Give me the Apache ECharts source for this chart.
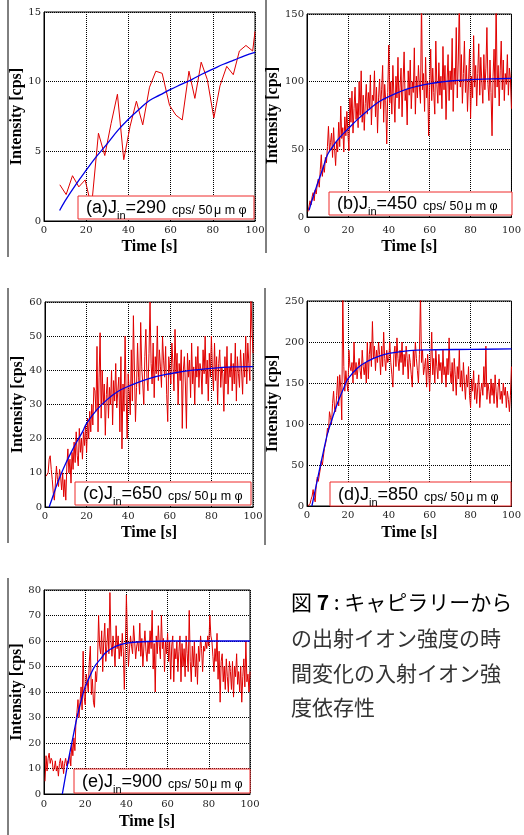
<!DOCTYPE html>
<html><head><meta charset="utf-8">
<script src="https://cdn.jsdelivr.net/npm/echarts@6/dist/echarts.min.js"></script>
<style>html,body{margin:0;padding:0;background:#fff}#c{width:524px;height:835px}</style>
</head><body><div id="c"></div>
<script>
// ---------------- DATA ----------------
const labelsJin = ['290', '450', '650', '850', '900'];
const panelLetters = ['a', 'b', 'c', 'd', 'e'];
const yMaxs = [15, 150, 60, 250, 80];
const yIntervals = [5, 50, 10, 50, 10];
const xMax = 100, xInterval = 20;

// (a) measured points
const aTime = [7.5,10.5,13.5,16.5,19.5,22.5,25.8,28.8,31.8,34.8,37.8,40.8,43.8,46.8,50,53,56,59.5,62.5,65.5,68.7,71.5,74.5,77.4,80.5,83.4,86.6,89.7,92.6,95.7,98.9,100];
const aRed = [2.6,1.9,3.25,2.45,2.95,1.0,6.3,4.7,7.0,9.1,4.4,6.8,8.6,6.9,9.6,10.75,10.6,8.3,7.6,7.25,10.75,8.8,11.4,10.15,7.4,9.7,11.1,10.5,12.2,12.6,12.2,13.6];

// (b)-(e) sampled every 0.5 s starting at 0.5 s
const sampleStep = 0.5;
const bRed = [4,8,12,9,15,18,12,20,17,24, 28,22,35,46,30,38,33,44,40,52, 67,48,55,62,44,66,50,38,56,48, 70,52,82,58,66,48,74,60,78,62,
  49,88,70,93,62,80,96,72,84,66, 100,75,108,70,90,64,84,98,76,92, 80,105,68,90,86,108,74,96,62,88, 102,80,94,112,70,98,86,54,92,127,
  84,100,76,112,90,70,104,88,118,80, 96,110,74,100,122,86,94,68,108,90, 116,80,100,92,125,76,104,88,112,96, 84,160,94,106,78,118,88,100,60,96,
  124,86,110,92,76,130,98,84,114,90, 104,80,126,94,112,72,100,120,86,108, 94,132,78,110,98,140,88,116,160,96, 120,84,106,130,92,112,78,100,124,73,
  104,88,134,96,112,82,106,128,90,118, 100,84,120,94,110,140,98,86,116,92, 60,104,124,88,160,96,112,82,108,130, 94,116,86,106,98,120,90,110,102,80];
const cRed = [9,9,10,14,15,11,8,4,2,7, 12,8,6,11,9,5,10,3,8,2, 12,17,10,14,7,16,11,19,13,22, 15,12,23,16,20,14,22,18,24,16,
  26,20,28,22,30,24,35,34,28,47, 22,38,51,26,40,30,36,21,33,38, 26,35,30,40,24,37,31,42,29,34, 38,22,44,17,36,28,50,33,20,39,
  34,27,46,31,56,40,25,35,48,38, 33,54,41,36,30,44,52,38,34,45, 60,42,36,48,32,44,39,53,37,46, 41,35,50,43,38,47,33,25,44,40,
  36,48,42,34,52,39,45,30,42,37, 46,23,40,44,36,23,45,38,43,32, 48,36,41,30,44,38,47,35,42,40, 33,46,39,50,36,43,31,45,38,50,
  40,34,48,37,44,30,42,46,35,41, 39,28,44,36,47,33,41,38,45,34, 42,36,48,31,44,39,35,46,40,33, 45,38,50,36,48,42,37,62,52,45];
const dRed = [0,0,3,8,12,20,10,5,25,35, 30,28,45,55,50,48,70,75,82,95, 90,115,108,100,125,140,118,115,135,158, 122,160,145,105,260,170,140,165,150,140,
  190,170,165,175,150,200,160,175,155,170, 180,165,155,190,170,160,175,150,200,155, 185,200,170,225,180,195,165,190,175,200, 185,160,195,170,212,180,165,190,175,180,
  200,175,160,145,185,195,170,205,180,165, 190,175,200,160,185,170,195,180,155,185, 175,160,145,190,170,200,180,165,150,185, 260,175,190,160,170,180,145,185,165,140,
  175,212,160,180,150,190,170,155,185,165, 175,150,190,160,170,145,180,160,205,165, 150,175,140,180,160,135,170,155,190,145, 165,140,175,150,130,160,145,170,135,120,
  155,140,165,130,150,125,145,160,120,140, 150,135,170,145,195,130,150,140,125,155, 135,150,125,160,140,120,145,155,130,140, 125,150,135,145,120,140,130,115,135,170];
const eRed = [5,15,9,14,16,12,14,13,9,10, 13,9,11,7,12,14,10,13,8,12, 14,11,13,12,16,11,20,15,22,17, 28,32,37,30,36,42,33,56,38,35,
  47,44,40,52,58,39,45,36,34,48, 44,52,70,58,55,64,48,60,67,52, 58,65,55,79,60,54,62,57,50,66, 57,62,53,59,54,63,56,41,58,78,
  62,50,57,62,58,55,66,60,53,58, 60,56,67,54,61,50,58,64,56,52, 60,55,64,57,72,49,59,40,62,55, 66,58,53,70,57,61,48,60,55,63,
  52,60,45,58,62,44,57,53,60,48, 56,62,44,59,50,57,46,62,55,48, 72,52,44,58,50,60,46,55,43,58, 52,62,57,48,58,56,60,57,62,58,
  70,62,60,54,48,57,52,63,45,56, 36,52,55,44,50,41,53,46,40,52, 48,41,52,38,50,46,55,43,48,40, 50,36,46,53,42,60,44,47,40,48];

// fitted curves
const fitATime = [7.4,10,15,20,25,30,35,40,45,50,55,60,65,70,75,80,85,90,95,100];
const fitAVal  = [0.75,1.45,2.6,3.65,4.65,5.55,6.5,7.3,8.0,8.65,9.05,9.45,9.8,10.15,10.55,10.9,11.25,11.55,11.85,12.1];
const fitBTime = [1,3,5,8,10,13,15,18,20,25,30,35,40,50,60,70,80,90,100];
const fitBVal  = [5,15,24,37,46,53,57,62,65,72.5,79,85,89,95,98.5,100.5,101.5,102,102.5];
const fitCTime = [2,4,6,8,10,13,15,18,20,25,30,35,40,50,60,70,80,90,100];
const fitCVal  = [0,3.5,7,10,12.8,16.5,18.8,22,24.5,28.5,31.5,33.8,35.3,37.6,39,40,40.6,41,41.1];
const fitDTime = [2.4,4,6,8,10,12,15,18,20,25,30,35,40,50,60,80,100];
const fitDVal  = [0,19,43,66,88,104,126,144,155,169,177,182.5,186,189.5,190.5,191,191.5];
const fitETime = [8.9,10,12,14,16,18,20,23,25,28,30,35,40,50,60,80,100];
const fitEVal  = [0,5,14,22,30,36.5,42,47.5,50.5,53.5,55.5,58,59.2,59.8,60,60,60];

const captionLines = ['の出射イオン強度の時', '間変化の入射イオン強', '度依存性'];

// ---------------- LAYOUT ----------------
const grids = [
  {left:44, top:12, width:211, height:209},
  {left:307, top:14, width:206, height:203},
  {left:45, top:302, width:208, height:205},
  {left:307, top:301, width:206, height:205},
  {left:44, top:590, width:206, height:204}
];
const xNameGaps = [18, 22, 18, 19, 20];
const xLabelMargins = [4, 8, 4, 4, 5];
const yNameGaps = [18, 20, 19, 22, 18];
const boxes = [
  {x:78, y:196, w:176, h:23},
  {x:329, y:192, w:183, h:23},
  {x:75, y:482, w:176, h:23},
  {x:330, y:482, w:181, h:24},
  {x:74, y:769, w:176, h:24}
];
const separators = [[8,0,257],[266,0,253],[8,288,543],[265,288,545],[8,578,835]];

function pairs(ts, vs){ return vs.map((v,i)=>[ts[i], v]); }
function sampled(vs){ return vs.map((v,i)=>[(i+1)*sampleStep, v]); }

const redData = [pairs(aTime,aRed), sampled(bRed), sampled(cRed), sampled(dRed), sampled(eRed)];
const fitData = [pairs(fitATime,fitAVal), pairs(fitBTime,fitBVal), pairs(fitCTime,fitCVal), pairs(fitDTime,fitDVal), pairs(fitETime,fitEVal)];

const tickFont = {fontFamily:'DejaVu Serif', fontSize:10, color:'#222'};
const nameFont = {fontFamily:'Liberation Serif', fontWeight:'bold', fontSize:16, color:'#000'};

const option = {
  animation:false,
  backgroundColor:'#fff',
  grid: grids.map(g=>Object.assign({show:true, borderColor:'#000', borderWidth:1, backgroundColor:'transparent'}, g)),
  xAxis: grids.map((g,i)=>({
    gridIndex:i, type:'value', min:0, max:xMax, interval:xInterval,
    axisLine:{show:true, lineStyle:{color:'#000', width:1}},
    axisTick:{show:false},
    axisLabel:Object.assign({margin:xLabelMargins[i]}, tickFont),
    splitLine:{show:true, lineStyle:{color:'#000', type:'dotted', width:1}},
    name:'Time [s]', nameLocation:'middle', nameGap:xNameGaps[i], nameTextStyle:nameFont
  })),
  yAxis: grids.map((g,i)=>({
    gridIndex:i, type:'value', min:0, max:yMaxs[i], interval:yIntervals[i],
    axisLine:{show:true, lineStyle:{color:'#000', width:1}},
    axisTick:{show:false},
    axisLabel:Object.assign({margin:3}, tickFont),
    splitLine:{show:true, lineStyle:{color:'#000', type:'dotted', width:1}},
    name:'Intensity [cps]', nameLocation:'middle', nameGap:yNameGaps[i], nameTextStyle:nameFont
  })),
  series: [],
  graphic: []
};

grids.forEach((g,i)=>{
  option.series.push({type:'line', xAxisIndex:i, yAxisIndex:i, data:redData[i], symbol:'none', showSymbol:false,
    lineStyle:{color:'#e00000', width:1}, z:2, clip:true});
  option.series.push({type:'line', xAxisIndex:i, yAxisIndex:i, data:fitData[i], symbol:'none', showSymbol:false, smooth:0.4,
    lineStyle:{color:'#0000e6', width:1.3}, z:3, clip:true});
});

separators.forEach(s=>{
  option.graphic.push({type:'line', shape:{x1:s[0], y1:s[1], x2:s[0], y2:s[2]}, style:{stroke:'#000', lineWidth:1}, z:50});
});

const richStyles = {
  b:{fontFamily:'Liberation Sans', fontSize:18, padding:[0,0,4,0], verticalAlign:'bottom', color:'#1a1a1a'},
  s:{fontFamily:'Liberation Sans', fontSize:11, padding:[0,0,0,0], verticalAlign:'bottom', color:'#1a1a1a'},
  m:{fontFamily:'Liberation Sans', fontSize:12.5, padding:[0,0,4,6], verticalAlign:'bottom', color:'#1a1a1a'},
  g:{fontFamily:'Liberation Sans', fontSize:12.5, padding:[0,1.7,4,1.7], verticalAlign:'bottom', color:'#1a1a1a'}
};

boxes.forEach((bx,i)=>{
  option.graphic.push({type:'rect', shape:{x:bx.x, y:bx.y, width:bx.w, height:bx.h},
    style:{fill:'#fff', stroke:'#ee2a2a', lineWidth:1}, z:100});
  option.graphic.push({type:'text', x:bx.x+8, y:bx.y+bx.h+2.5, z:101,
    style:{text:'{b|('+panelLetters[i]+')J}{s|in}{b|='+labelsJin[i]+'}{m|cps/ 50}{g|μ}{g|m}{g|φ}',
      rich:richStyles, align:'left', verticalAlign:'bottom'}});
});

// caption
option.graphic.push({type:'text', x:291, y:602, z:60,
  style:{text:'{n|図 }{k|7}{n| : キャピラリーから}', align:'left', verticalAlign:'middle',
    rich:{n:{fontFamily:'Noto Sans CJK JP', fontSize:21, color:'#333'}, k:{fontFamily:'Noto Sans CJK JP', fontSize:21, fontWeight:'bold', color:'#333'}}}});
const capY = [638, 673, 707];
captionLines.forEach((t,i)=>{
  option.graphic.push({type:'text', x:291, y:capY[i], z:60,
    style:{text:t, fontFamily:'Noto Sans CJK JP', fontSize:21, fill:'#333', align:'left', verticalAlign:'middle'}});
});

const chart = echarts.init(document.getElementById('c'), null, {renderer:'canvas', width:524, height:835});
chart.setOption(option);
</script></body></html>
